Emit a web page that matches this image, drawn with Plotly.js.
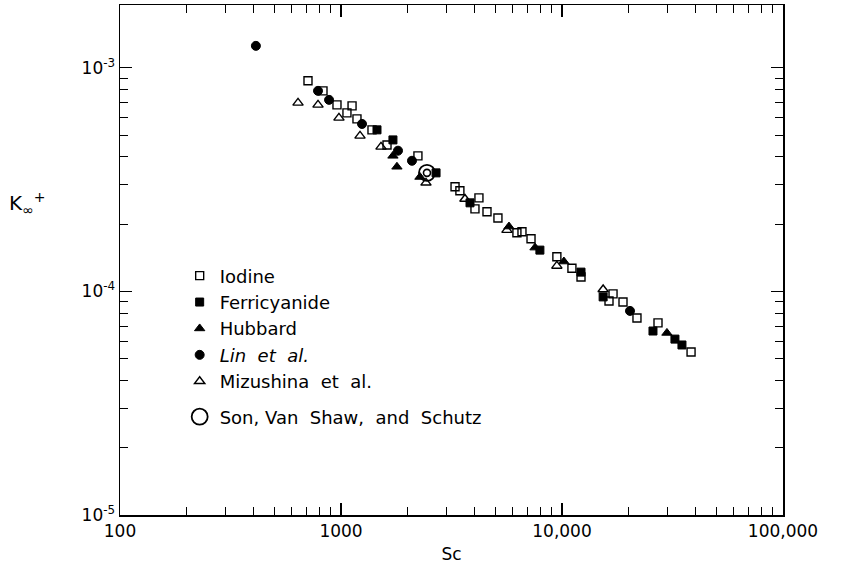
<!DOCTYPE html>
<html>
<head>
<meta charset="utf-8">
<script src="https://cdn.plot.ly/plotly-3.0.1.min.js"></script>
<style>html,body{margin:0;padding:0;background:#fff;}#chart{width:845px;height:569px;}</style>
</head>
<body>
<div id="chart"></div>
<script>
// Iodine (open squares)
const iodineSc = [709, 829, 959, 1122, 1064, 1181, 1381, 1615, 2229, 3281, 3451, 4209, 4038, 4577, 5130, 6252, 6590, 7241, 9480, 11090, 12190, 17020, 16320, 18880, 21840, 27190, 38370];
const iodineK  = [8.75e-4, 7.89e-4, 6.83e-4, 6.76e-4, 6.29e-4, 5.91e-4, 5.28e-4, 4.52e-4, 4.04e-4, 2.94e-4, 2.82e-4, 2.62e-4, 2.34e-4, 2.27e-4, 2.13e-4, 1.83e-4, 1.85e-4, 1.72e-4, 1.43e-4, 1.27e-4, 1.16e-4, 9.75e-5, 9.06e-5, 8.97e-5, 7.61e-5, 7.23e-5, 5.36e-5];
// Ferricyanide (filled squares)
const ferriSc = [1455, 1718, 2692, 3835, 7943, 12190, 15350, 25800, 32440, 34900];
const ferriK  = [5.28e-4, 4.76e-4, 3.39e-4, 2.49e-4, 1.53e-4, 1.22e-4, 9.45e-5, 6.65e-5, 6.12e-5, 5.76e-5];
// Hubbard (filled triangles)
const hubbardSc = [1718, 1791, 2276, 5755, 7551, 10200, 29840];
const hubbardK  = [4.04e-4, 3.61e-4, 3.25e-4, 1.95e-4, 1.57e-4, 1.36e-4, 6.52e-5];
// Lin et al. (filled circles)
const linSc = [412, 787, 883, 1245, 1811, 2095, 20310];
const linK  = [1.254e-3, 7.89e-4, 7.19e-4, 5.61e-4, 4.26e-4, 3.84e-4, 8.18e-5];
// Mizushina et al. (open triangles)
const mizuSc = [639, 787, 979, 1219, 1517, 2424, 3638, 5636, 9480, 15350];
const mizuK  = [6.97e-4, 6.83e-4, 5.97e-4, 4.96e-4, 4.43e-4, 3.06e-4, 2.59e-4, 1.88e-4, 1.30e-4, 1.02e-4];
// Son, Van Shaw, and Schutz (target)
const sonSc = [2449];
const sonK  = [3.39e-4];

const xTickVals = [100, 1000, 10000, 100000];
const xTickText = ['100', '1000', '10,000', '100,000'];
const yTickVals = [1e-5, 1e-4, 1e-3];
const yTickText = ['10<sup>-5</sup>', '10<sup>-4</sup>', '10<sup>-3</sup>'];

function minorVals(d0, d1) {
  const v = [];
  for (let d = d0; d < d1; d++) for (let k = 2; k <= 9; k++) v.push(k * Math.pow(10, d));
  return v;
}

const FONT = 'DejaVu Sans, sans-serif';
const mk = (sym, size, fill, lw) => ({symbol: sym, size: size, color: fill, line: {color: 'black', width: lw}});

const traces = [
  {x: iodineSc, y: iodineK, name: 'Iodine', mode: 'markers', type: 'scatter', legendgroup: 'a', marker: mk('square-open', 8, 'black', 1.4)},
  {x: ferriSc, y: ferriK, name: 'Ferricyanide', mode: 'markers', type: 'scatter', legendgroup: 'a', marker: mk('square', 8, 'black', 1)},
  {x: hubbardSc, y: hubbardK, name: 'Hubbard', mode: 'markers', type: 'scatter', legendgroup: 'a', marker: mk('triangle-up', 9, 'black', 1)},
  {x: linSc, y: linK, name: '<i>Lin  et  al.</i>', mode: 'markers', type: 'scatter', legendgroup: 'a', marker: mk('circle', 9, 'black', 1)},
  {x: mizuSc, y: mizuK, name: 'Mizushina  et  al.', mode: 'markers', type: 'scatter', legendgroup: 'a', marker: mk('triangle-up-open', 9, 'black', 1.4)},
  {x: sonSc, y: sonK, name: 'Son, Van  Shaw,  and  Schutz', mode: 'markers', type: 'scatter', legendgroup: 'b', marker: mk('circle-open', 16, 'black', 1.8)},
  {x: sonSc, y: sonK, name: 'inner', mode: 'markers', type: 'scatter', legendgroup: 'b', showlegend: false, marker: mk('circle-open', 7, 'black', 1.6)}
];

const axisCommon = {
  type: 'log', showgrid: false, zeroline: false, showline: true, linecolor: 'black', linewidth: 1.5,
  mirror: 'ticks', ticks: 'inside', ticklen: 12, tickwidth: 1.2, tickcolor: 'black',
  tickfont: {family: FONT, size: 17, color: 'black'}
};

const layout = {
  width: 845, height: 569,
  margin: {l: 120, r: 62, t: 5, b: 54},
  paper_bgcolor: 'white', plot_bgcolor: 'white',
  showlegend: true,
  legend: {x: 0.09, y: 0.505, xanchor: 'left', yanchor: 'top', traceorder: 'grouped', tracegroupgap: 9,
           font: {family: FONT, size: 18, color: 'black'}, bgcolor: 'rgba(0,0,0,0)', itemwidth: 30},
  xaxis: Object.assign({}, axisCommon, {
    range: [2, 5], tickvals: xTickVals, ticktext: xTickText,
    minor: {tickvals: minorVals(2, 5), ticks: 'inside', ticklen: 8, tickcolor: 'black', tickwidth: 1},
    title: {text: 'Sc', font: {family: FONT, size: 17, color: 'black'}, standoff: 8}
  }),
  yaxis: Object.assign({}, axisCommon, {
    range: [-5, Math.log10(1.91e-3)], tickvals: yTickVals, ticktext: yTickText,
    minor: {tickvals: minorVals(-5, -2), ticks: 'inside', ticklen: 8, tickcolor: 'black', tickwidth: 1}
  }),
  annotations: [
    {xref: 'paper', yref: 'paper', x: -0.14, y: 0.61, xanchor: 'center', yanchor: 'middle', showarrow: false,
     text: 'K<sub>∞</sub><sup>+</sup>', font: {family: FONT, size: 20, color: 'black'}}
  ]
};

Plotly.newPlot('chart', traces, layout, {displayModeBar: false, staticPlot: true});
</script>
</body>
</html>
